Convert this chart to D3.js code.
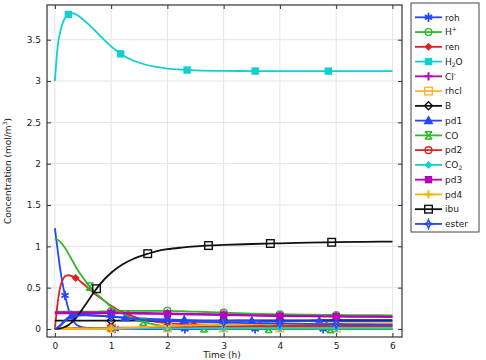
<!DOCTYPE html>
<html><head><meta charset="utf-8">
<script src="https://cdn.jsdelivr.net/npm/d3@7/dist/d3.min.js"></script>
<style>body{margin:0;background:#fff}svg{display:block;font-family:"DejaVu Sans",sans-serif}</style>
</head><body><svg id="c" width="486" height="360"></svg>
<script>
// ---- data ----
const T = [0,0.05,0.1,0.15,0.2,0.25,0.3,0.35,0.4,0.5,0.6,0.7,0.8,1.0,1.2,1.4,1.6,1.8,2.0,2.25,2.5,3.0,3.5,4.0,4.5,5.0,5.5,6.0];
const seriesNames = ["roh","H+","ren","H2O","Cl-","rhcl","B","pd1","CO","pd2","CO2","pd3","pd4","ibu","ester"];
const roh  = [1.22,0.95,0.70,0.50,0.35,0.22,0.13,0.075,0.045,0.02,0.012,0.008,0.005,0.003,0.002,0.001,0,0,0,0,0,0,0,0,0,0,0,0];
const hplus= [0.21,0.21,0.21,0.21,0.21,0.21,0.21,0.21,0.21,0.21,0.21,0.21,0.212,0.215,0.218,0.22,0.22,0.22,0.22,0.215,0.21,0.197,0.186,0.178,0.172,0.169,0.167,0.165];
const ren  = [0,0.32,0.52,0.61,0.645,0.65,0.64,0.625,0.605,0.55,0.49,0.43,0.38,0.28,0.2,0.15,0.11,0.085,0.07,0.06,0.055,0.05,0.048,0.046,0.045,0.044,0.043,0.042];
const h2o  = [3.0,3.42,3.61,3.72,3.78,3.81,3.82,3.815,3.795,3.745,3.685,3.62,3.55,3.42,3.315,3.245,3.2,3.17,3.151,3.137,3.129,3.123,3.121,3.12,3.12,3.12,3.12,3.12];
const clm  = [0.2,0.2,0.2,0.2,0.2,0.2,0.2,0.2,0.2,0.2,0.2,0.2,0.2,0.2,0.198,0.196,0.194,0.192,0.19,0.186,0.182,0.175,0.168,0.162,0.158,0.155,0.152,0.15];
const rhcl = [0.012,0.012,0.012,0.012,0.012,0.012,0.012,0.012,0.012,0.012,0.012,0.012,0.012,0.012,0.012,0.012,0.012,0.012,0.012,0.012,0.012,0.012,0.012,0.012,0.012,0.012,0.012,0.012];
const bvals= [0.1,0.1,0.1,0.1,0.1,0.1,0.1,0.1,0.1,0.1,0.1,0.1,0.1,0.1,0.1,0.1,0.1,0.1,0.1,0.1,0.101,0.102,0.103,0.104,0.105,0.106,0.107,0.108];
const pd1  = [0,0.02,0.05,0.09,0.12,0.145,0.16,0.17,0.175,0.175,0.17,0.165,0.16,0.15,0.14,0.13,0.125,0.12,0.115,0.11,0.105,0.1,0.097,0.095,0.094,0.093,0.092,0.092];
const co   = [1.09,1.08,1.05,1.01,0.96,0.9,0.84,0.78,0.72,0.62,0.53,0.45,0.39,0.27,0.19,0.12,0.08,0.05,0.03,0.018,0.01,0.004,0.002,0,0,0,0,0];
const pd2  = [0,0,0.001,0.002,0.003,0.004,0.005,0.006,0.007,0.008,0.009,0.01,0.011,0.013,0.015,0.017,0.018,0.02,0.021,0.023,0.024,0.026,0.028,0.03,0.031,0.032,0.034,0.035];
const co2  = [0,0,0,0.001,0.001,0.002,0.002,0.003,0.003,0.004,0.004,0.005,0.005,0.006,0.006,0.007,0.007,0.008,0.008,0.008,0.009,0.009,0.01,0.01,0.01,0.01,0.01,0.01];
const pd3  = [0.19,0.19,0.19,0.19,0.19,0.19,0.19,0.19,0.19,0.19,0.19,0.19,0.19,0.19,0.188,0.186,0.184,0.182,0.18,0.177,0.174,0.168,0.162,0.156,0.152,0.149,0.146,0.145];
const pd4  = [0,0,0,0,0,0,0,0,0,0.001,0.002,0.003,0.004,0.006,0.01,0.016,0.023,0.03,0.036,0.041,0.045,0.052,0.056,0.06,0.063,0.065,0.067,0.068];
const ibu  = [0,0.002,0.008,0.018,0.032,0.052,0.08,0.115,0.155,0.25,0.35,0.45,0.54,0.68,0.78,0.85,0.9,0.94,0.965,0.985,1.0,1.017,1.028,1.037,1.044,1.05,1.055,1.058];
const ester= [0,0.015,0.04,0.075,0.105,0.13,0.145,0.155,0.16,0.165,0.163,0.16,0.157,0.15,0.135,0.12,0.11,0.1,0.095,0.09,0.085,0.078,0.072,0.067,0.062,0.058,0.055,0.052];
const markerTimes = {
  "roh":[0.18,1.07,2.31,3.56,4.77], "H+":[1,2,3,4,5], "ren":[0.37,1.3,2.47,3.65,4.83],
  "H2O":[0.24,1.17,2.35,3.56,4.86], "Cl-":[1,2,3,4,5], "rhcl":[1,2,3,4,5], "B":[1,2,3,4,5],
  "pd1":[0.3,1.25,2.3,3.5,4.7], "CO":[0.62,1.57,2.65,3.8,4.9], "pd2":[1,2,3,4,5],
  "CO2":[1,2,3,4,5], "pd3":[1,2,3,4,5], "pd4":[1,2,3,4,5],
  "ibu":[0.74,1.65,2.73,3.83,4.92], "ester":[1,2,3,4,5]
};
const xTicks = [0,1,2,3,4,5,6];
const yTicks = [0,0.5,1,1.5,2,2.5,3,3.5];
const yTickLabels = ["0","0.5","1","1.5","2","2.5","3","3.5"];

// ---- style ----
const values = [roh,hplus,ren,h2o,clm,rhcl,bvals,pd1,co,pd2,co2,pd3,pd4,ibu,ester];
const colors = ["#2546ff","#2fb82f","#dd2222","#10d0d0","#b800b8","#ffb52e","#111111","#2546ff","#2fb82f","#dd2222","#10d0d0","#b800b8","#ffb000","#111111","#2546ff"];
const shapes = ["aster","ocircle","fdiamond","fsquare","plus","osquare","odiamond","ftriangle","xbar","ocircle","fdiamond","fsquare","plus","osquare","ostar"];
// label parts: [text, kind] where kind is "n" normal, "sup", "sub"
const labelParts = [[["roh","n"]],[["H","n"],["+","sup"]],[["ren","n"]],[["H","n"],["2","sub"],["O","n"]],[["Cl","n"],["-","sup"]],[["rhcl","n"]],[["B","n"]],[["pd1","n"]],[["CO","n"]],[["pd2","n"]],[["CO","n"],["2","sub"]],[["pd3","n"]],[["pd4","n"]],[["ibu","n"]],[["ester","n"]]];

const svg = d3.select("#c");
const L=47, R=402, Tp=5, B=337;
const x = d3.scaleLinear().domain([-0.14,6.17]).range([L,R]);
const y = d3.scaleLinear().domain([-0.097,3.92]).range([B,Tp]);

// grid
svg.append("g").selectAll("line").data(xTicks).join("line")
  .attr("x1",d=>x(d)).attr("x2",d=>x(d)).attr("y1",Tp).attr("y2",B).attr("stroke","#e4e4e4");
svg.append("g").selectAll("line").data(yTicks).join("line")
  .attr("y1",d=>y(d)).attr("y2",d=>y(d)).attr("x1",L).attr("x2",R).attr("stroke","#e4e4e4");

// axes
const xb = d3.axisBottom(x).tickValues(xTicks).tickSize(-4).tickPadding(6).tickFormat(d3.format("d"));
const yl = d3.axisLeft(y).tickValues(yTicks).tickSize(-4).tickPadding(6).tickFormat((d,i)=>yTickLabels[i]);
const xt = d3.axisTop(x).tickValues(xTicks).tickSize(-4).tickFormat("");
const yr = d3.axisRight(y).tickValues(yTicks).tickSize(-4).tickFormat("");
[[xb,`translate(0,${B})`],[yl,`translate(${L},0)`],[xt,`translate(0,${Tp})`],[yr,`translate(${R},0)`]].forEach(([a,t])=>{
  const g = svg.append("g").attr("transform",t).call(a);
  g.select(".domain").remove();
  g.selectAll(".tick line").attr("stroke","#333");
  g.selectAll(".tick text").attr("font-size",9).attr("fill","#222").attr("font-family","DejaVu Sans, sans-serif");
});
svg.append("rect").attr("x",L).attr("y",Tp).attr("width",R-L).attr("height",B-Tp)
  .attr("fill","none").attr("stroke","#333").attr("stroke-width",1.2);

svg.append("text").attr("x",222).attr("y",358).attr("text-anchor","middle").attr("font-size",9).attr("fill","#222").text("Time (h)");
const yt = svg.append("text").attr("transform","translate(11,171) rotate(-90)").attr("text-anchor","middle").attr("font-size",9).attr("fill","#222");
yt.append("tspan").text("Concentration (mol/m");
yt.append("tspan").attr("font-size",6).attr("dy",-4).text("3");
yt.append("tspan").attr("dy",4).text(")");

// marker drawing
function marker(g, shape, color, cx, cy){
  const s=3.6;
  const m = g.append("g").attr("transform",`translate(${cx},${cy})`).attr("stroke",color).attr("stroke-width",1.4);
  switch(shape){
    case "aster":
      m.append("path").attr("d",`M0,${-s-1}V${s+1}M${-s},${-s*0.6}L${s},${s*0.6}M${-s},${s*0.6}L${s},${-s*0.6}`).attr("fill","none").attr("stroke-width",1.8);break;
    case "xbar":
      m.append("path").attr("d",`M${-s},${-s}L${s},${s}M${-s},${s}L${s},${-s}M${-s},${-s}H${s}M${-s},${s}H${s}`).attr("fill","none").attr("stroke-width",1.6);break;
    case "ocircle": m.append("circle").attr("r",3.4).attr("fill","none");break;
    case "fdiamond": m.append("path").attr("d",`M0,-3L3,0L0,3L-3,0Z`).attr("fill",color);break;
    case "odiamond": m.append("path").attr("d",`M0,-4L4,0L0,4L-4,0Z`).attr("fill","none");break;
    case "fsquare": m.append("rect").attr("x",-3).attr("y",-3).attr("width",6).attr("height",6).attr("fill",color);break;
    case "osquare": m.append("rect").attr("x",-3.8).attr("y",-3.8).attr("width",7.6).attr("height",7.6).attr("fill","none");break;
    case "plus": m.append("path").attr("d",`M0,${-s-0.5}V${s+0.5}M${-s-0.5},0H${s+0.5}`).attr("fill","none").attr("stroke-width",2);break;
    case "ftriangle": m.append("path").attr("d",`M0,-4L3.8,3L-3.8,3Z`).attr("fill",color);break;
    case "ostar": m.append("path").attr("d",`M0,-4.5L1.2,-1.2L4.5,0L1.2,1.2L0,4.5L-1.2,1.2L-4.5,0L-1.2,-1.2Z`).attr("fill","none");break;
  }
}

svg.append("defs").append("clipPath").attr("id","clip").append("rect").attr("x",L).attr("y",Tp).attr("width",R-L).attr("height",B-Tp);
const plot = svg.append("g").attr("clip-path","url(#clip)");
const line = d3.line().x(d=>x(d[0])).y(d=>y(d[1])).curve(d3.curveMonotoneX);

seriesNames.forEach((name,i)=>{
  const pts = T.map((t,j)=>[t,values[i][j]]);
  const p = plot.append("path").attr("d",line(pts)).attr("fill","none")
    .attr("stroke",colors[i]).attr("stroke-width",1.8);
  const node = p.node(), len = node.getTotalLength();
  const mg = plot.append("g");
  markerTimes[name].forEach(t=>{
    const px = x(t);
    let lo=0, hi=len;
    for(let k=0;k<40;k++){const mid=(lo+hi)/2; if(node.getPointAtLength(mid).x<px) lo=mid; else hi=mid;}
    const pt = node.getPointAtLength(lo);
    marker(mg, shapes[i], colors[i], pt.x, pt.y);
  });
});

// legend
const lg = svg.append("g");
lg.append("rect").attr("x",411).attr("y",3).attr("width",68).attr("height",229).attr("fill","#fff").attr("stroke","#444").attr("stroke-width",1);
seriesNames.forEach((name,i)=>{
  const yy = 17.3 + i*14.76;
  lg.append("line").attr("x1",415).attr("x2",442).attr("y1",yy).attr("y2",yy).attr("stroke",colors[i]).attr("stroke-width",1.8);
  marker(lg, shapes[i], colors[i], 428.5, yy);
  const tx = lg.append("text").attr("x",445).attr("y",yy+3.3).attr("font-size",9).attr("fill","#222");
  let shift = 0;
  labelParts[i].forEach(([txt,kind])=>{
    const target = kind==="sup" ? -4 : kind==="sub" ? 2 : 0;
    const ts = tx.append("tspan").text(txt);
    if(target!==shift){ ts.attr("dy", target-shift); shift = target; }
    if(kind!=="n") ts.attr("font-size",6);
  });
});
</script></body></html>
